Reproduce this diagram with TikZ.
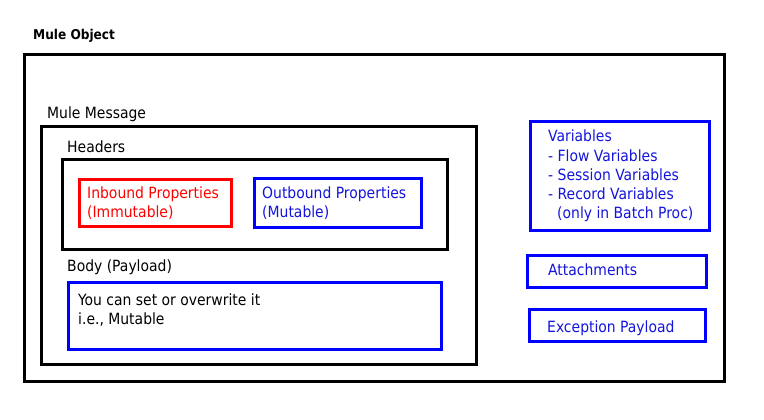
\documentclass[tikz,border=0pt]{standalone}
\usepackage{fontspec}
\setmainfont{DejaVu Sans Condensed}
\definecolor{pblue}{RGB}{0,0,255}
\definecolor{pred}{RGB}{255,0,0}
\definecolor{tblue}{RGB}{20,20,220}
\begin{document}
\begin{tikzpicture}[x=1pt,y=-1pt,
  frame/.style={draw=black, line width=3pt},
  bframe/.style={draw=pblue, line width=3pt},
  rframe/.style={draw=pred, line width=3pt},
  lbl/.style={anchor=base west, inner sep=0pt, font=\fontsize{15.5}{19}\selectfont},
  blbl/.style={lbl, text=tblue},
  rlbl/.style={lbl, text=pred}]
\useasboundingbox (0,0) rectangle (764,420);
\fill[white] (0,0) rectangle (764,420);
% boxes
\draw[frame] (24,55) rectangle (724,381);
\draw[frame] (41,127) rectangle (476,364);
\draw[frame] (62,159) rectangle (447,249);
\draw[rframe] (79,179) rectangle (231,226);
\draw[bframe] (254,178) rectangle (421,227);
\draw[bframe] (68,282) rectangle (441,349);
\draw[bframe] (530,122) rectangle (709,230);
\draw[bframe] (527,255) rectangle (706,287);
\draw[bframe] (529,309) rectangle (705,341);
% labels
\node[lbl, font=\fontsize{13.5}{15}\bfseries\selectfont] (obj) at (33,40) {Mule Object};
\node[lbl] (msg) at (47,118) {Mule Message};
\node[lbl] (hdr) at (67,152) {Headers};
\node[rlbl] (inb1) at (87,198) {Inbound Properties};
\node[rlbl] (inb2) at (87,217) {(Immutable)};
\node[blbl] (outb1) at (262,198) {Outbound Properties};
\node[blbl] (outb2) at (262,217) {(Mutable)};
\node[lbl] (body) at (67,271) {Body (Payload)};
\node[lbl] (bodyt1) at (78,305) {You can set or overwrite it};
\node[lbl] (bodyt2) at (78,324) {i.e., Mutable};
\node[blbl] (vars1) at (548,142) {Variables};
\node[blbl] (vars2) at (548,161) {- Flow Variables};
\node[blbl] (vars3) at (548,180) {- Session Variables};
\node[blbl] (vars4) at (548,199) {- Record Variables};
\node[blbl] (vars5) at (557,218) {(only in Batch Proc)};
\node[blbl] (att) at (548,275) {Attachments};
\node[blbl] (exc) at (547,332) {Exception Payload};
\end{tikzpicture}
\end{document}
